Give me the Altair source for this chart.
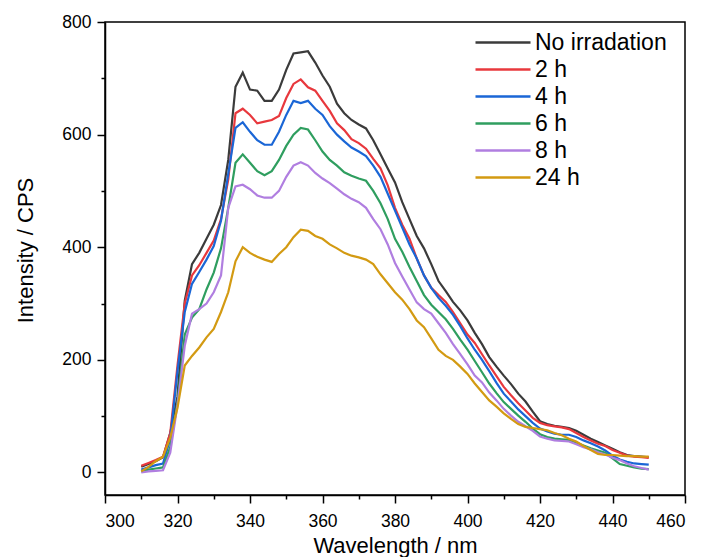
import altair as alt
import pandas as pd

wavelength = list(range(310, 452, 2))

no_irradiation = [10, 15, 20, 27, 70, 135, 305, 370, 390, 415, 440, 475, 555, 685, 710, 680, 678, 660, 660, 680,
                  715, 744, 746, 748, 728, 705, 685, 655, 638, 626, 618, 611, 590, 565, 540, 515, 480, 450, 420, 398,
                  370, 340, 322, 303, 288, 270, 248, 228, 205, 188, 172, 157, 140, 126, 108, 91, 86, 83, 81, 79,
                  74, 67, 60, 54, 48, 42, 36, 31, 29, 28, 27]
h2 = [12, 17, 22, 28, 70, 190, 300, 350, 368, 390, 412, 450, 520, 638, 646, 635, 620, 623, 626, 633,
      665, 690, 698, 684, 678, 660, 642, 620, 608, 592, 585, 575, 557, 540, 510, 470, 440, 415, 380, 350,
      328, 315, 303, 285, 265, 245, 230, 210, 190, 171, 152, 137, 123, 110, 97, 88, 84, 82, 80, 77,
      70, 63, 57, 51, 47, 40, 35, 30, 28, 27, 26]
h4 = [5, 9, 13, 16, 60, 180, 285, 335, 356, 378, 402, 447, 530, 612, 622, 605, 590, 582, 582, 605,
      635, 660, 656, 660, 646, 635, 615, 600, 588, 577, 570, 562, 545, 525, 495, 465, 435, 405, 380, 350,
      328, 310, 296, 280, 260, 238, 218, 200, 180, 159, 140, 126, 112, 100, 88, 78, 73, 69, 67, 67,
      63, 57, 52, 46, 39, 30, 23, 19, 16, 15, 14]
h6 = [2, 5, 7, 9, 45, 125, 245, 275, 290, 325, 355, 398, 470, 550, 565, 550, 535, 528, 535, 555,
      580, 600, 612, 609, 590, 570, 555, 545, 533, 527, 522, 518, 500, 478, 450, 415, 392, 365, 340, 315,
      298, 285, 272, 255, 236, 218, 198, 178, 158, 141, 125, 113, 101, 90, 78, 68, 63, 60, 59, 58,
      53, 48, 43, 39, 35, 25, 15, 12, 9, 7, 6]
h8 = [0, 2, 3, 4, 35, 120, 225, 282, 290, 300, 320, 350, 470, 508, 511, 503, 492, 488, 488, 500,
      525, 545, 551, 545, 532, 522, 514, 504, 494, 486, 480, 470, 450, 432, 405, 372, 348, 325, 302, 290,
      282, 265, 248, 228, 210, 192, 172, 160, 142, 128, 113, 101, 90, 82, 74, 64, 60, 57, 56, 55,
      50, 45, 41, 36, 32, 26, 22, 16, 11, 8, 5]
h24 = [2, 10, 20, 28, 62, 115, 190, 207, 222, 240, 255, 285, 320, 375, 400, 390, 383, 378, 374, 388,
       400, 418, 431, 429, 420, 415, 405, 398, 390, 385, 382, 378, 370, 352, 336, 320, 307, 290, 270, 258,
       238, 218, 207, 200, 188, 175, 158, 143, 128, 117, 105, 95, 86, 81, 79, 77, 75, 70, 66, 60,
       55, 47, 40, 33, 31, 31, 30, 29, 29, 28, 28]

series_names = ["No irradation", "2 h", "4 h", "6 h", "8 h", "24 h"]
series_values = [no_irradiation, h2, h4, h6, h8, h24]
series_colors = ["#3b3b3b", "#e8383d", "#1a66d6", "#2f9e5f", "#b07ee0", "#d39a12"]

x_major = [300, 320, 340, 360, 380, 400, 420, 440, 460]
x_minor = [310, 330, 350, 370, 390, 410, 430, 450]
y_major = [0, 200, 400, 600, 800]
y_minor = [100, 300, 500, 700]

rows = []
for order, (name, vals) in enumerate(zip(series_names, series_values)):
    for w, v in zip(wavelength, vals):
        rows.append({"Wavelength": w, "Intensity": v, "Series": name, "order": order})
df = pd.DataFrame(rows)

x_scale = alt.Scale(domain=[300, 460], nice=False, zero=False)
y_scale = alt.Scale(domain=[-40, 800], nice=False, zero=False)

FONT = "Liberation Sans"

lines = alt.Chart(df).mark_line(strokeWidth=2.2).encode(
    x=alt.X("Wavelength:Q", scale=x_scale,
            axis=alt.Axis(values=x_major, title="Wavelength / nm", tickSize=8, labelPadding=9,
                          titleX=290, titleY=50, titleBaseline="middle", titleAlign="center")),
    y=alt.Y("Intensity:Q", scale=y_scale,
            axis=alt.Axis(values=y_major, title="Intensity / CPS", tickSize=8, labelPadding=6,
                          titleX=-80, titleY=228, titleBaseline="middle", titleAlign="center")),
    color=alt.Color("Series:N", sort=series_names,
                    scale=alt.Scale(domain=series_names, range=series_colors),
                    legend=alt.Legend(title=None, orient="none", legendX=369, legendY=8,
                                      symbolType="M-1,0H4", symbolSize=484, symbolStrokeWidth=2.5,
                                      symbolFillColor="transparent",
                                      labelFontSize=23, labelFont=FONT, labelColor="black",
                                      labelOffset=36, rowPadding=2)),
    detail="order:O",
)

minor = alt.Chart(df).mark_line(opacity=0).encode(
    x=alt.X("Wavelength:Q", scale=x_scale,
            axis=alt.Axis(values=x_minor, orient="bottom", labels=False, domain=False,
                          tickSize=4, title=None)),
    y=alt.Y("Intensity:Q", scale=y_scale,
            axis=alt.Axis(values=y_minor, orient="left", labels=False, domain=False,
                          tickSize=4, title=None)),
    detail="Series:N",
)

chart = alt.layer(lines, minor).resolve_axis(x="independent", y="independent").properties(
    width=580, height=473,
    padding={"left": 97, "top": 14, "right": 5, "bottom": 62},
    autosize=alt.AutoSizeParams(type="none"),
    background="white",
).configure_view(
    stroke="black", strokeWidth=1.5
).configure_axis(
    grid=False, domainColor="black", domainWidth=1.5, tickColor="black", tickWidth=1.5,
    labelColor="black", labelFont=FONT, labelFontSize=17.5,
    titleColor="black", titleFont=FONT, titleFontSize=22, titleFontWeight="normal",
)

chart.save("out.html", embed_options={"renderer": "svg", "actions": False})
